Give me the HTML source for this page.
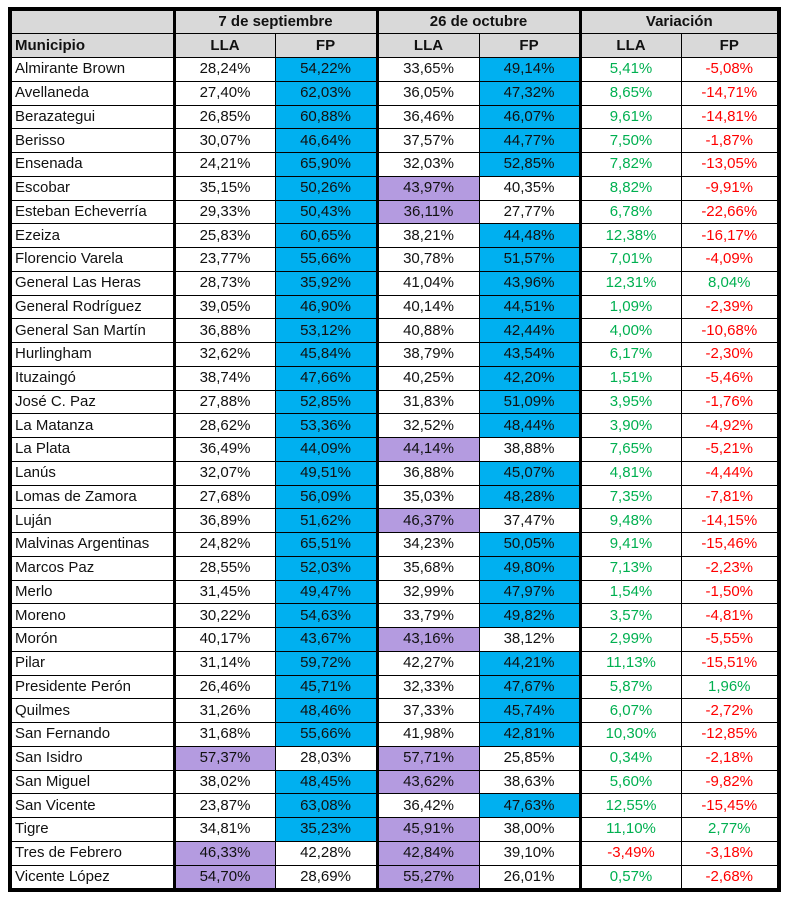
<!DOCTYPE html>
<html><head><meta charset="utf-8"><style>
html,body{margin:0;padding:0;background:#fff;width:790px;height:901px;overflow:hidden}
table{position:absolute;left:8px;top:7px;border-collapse:collapse;table-layout:fixed;width:769px;border:4px solid #000;font-family:"Liberation Sans",Arial,sans-serif;font-size:15px;color:#111}
td{border:1.5px solid #000;padding:0;height:22.75px;text-align:center;white-space:nowrap;overflow:hidden;line-height:20px}
td:first-child{text-align:left;padding-left:3px}
tr.h td{background:#d9d9d9;font-weight:bold;height:22px}
tr.h2 td{height:23px}
td:nth-child(2),td:nth-child(4),td:nth-child(6){border-left:3.5px solid #000}
tr.h td.g{border-left:3.5px solid #000}
.b{background:#00b0f0}.p{background:#b49be0}
.g1{color:#00b050}.r{color:#ff0000}
</style></head><body>
<table>
<colgroup><col style="width:164px"><col style="width:101px"><col style="width:102px"><col style="width:102px"><col style="width:101px"><col style="width:101px"><col style="width:98px"></colgroup>
<tr class="h"><td></td><td colspan="2" class="g">7 de septiembre</td><td colspan="2" class="g" style="border-left:3.5px solid #000">26 de octubre</td><td colspan="2" class="g" style="border-left:3.5px solid #000">Variación</td></tr>
<tr class="h h2"><td>Municipio</td><td>LLA</td><td>FP</td><td>LLA</td><td>FP</td><td>LLA</td><td>FP</td></tr>
<tr><td>Almirante Brown</td><td>28,24%</td><td class="b">54,22%</td><td>33,65%</td><td class="b">49,14%</td><td class="g1">5,41%</td><td class="r">-5,08%</td></tr>
<tr><td>Avellaneda</td><td>27,40%</td><td class="b">62,03%</td><td>36,05%</td><td class="b">47,32%</td><td class="g1">8,65%</td><td class="r">-14,71%</td></tr>
<tr><td>Berazategui</td><td>26,85%</td><td class="b">60,88%</td><td>36,46%</td><td class="b">46,07%</td><td class="g1">9,61%</td><td class="r">-14,81%</td></tr>
<tr><td>Berisso</td><td>30,07%</td><td class="b">46,64%</td><td>37,57%</td><td class="b">44,77%</td><td class="g1">7,50%</td><td class="r">-1,87%</td></tr>
<tr><td>Ensenada</td><td>24,21%</td><td class="b">65,90%</td><td>32,03%</td><td class="b">52,85%</td><td class="g1">7,82%</td><td class="r">-13,05%</td></tr>
<tr><td>Escobar</td><td>35,15%</td><td class="b">50,26%</td><td class="p">43,97%</td><td>40,35%</td><td class="g1">8,82%</td><td class="r">-9,91%</td></tr>
<tr><td>Esteban Echeverría</td><td>29,33%</td><td class="b">50,43%</td><td class="p">36,11%</td><td>27,77%</td><td class="g1">6,78%</td><td class="r">-22,66%</td></tr>
<tr><td>Ezeiza</td><td>25,83%</td><td class="b">60,65%</td><td>38,21%</td><td class="b">44,48%</td><td class="g1">12,38%</td><td class="r">-16,17%</td></tr>
<tr><td>Florencio Varela</td><td>23,77%</td><td class="b">55,66%</td><td>30,78%</td><td class="b">51,57%</td><td class="g1">7,01%</td><td class="r">-4,09%</td></tr>
<tr><td>General Las Heras</td><td>28,73%</td><td class="b">35,92%</td><td>41,04%</td><td class="b">43,96%</td><td class="g1">12,31%</td><td class="g1">8,04%</td></tr>
<tr><td>General Rodríguez</td><td>39,05%</td><td class="b">46,90%</td><td>40,14%</td><td class="b">44,51%</td><td class="g1">1,09%</td><td class="r">-2,39%</td></tr>
<tr><td>General San Martín</td><td>36,88%</td><td class="b">53,12%</td><td>40,88%</td><td class="b">42,44%</td><td class="g1">4,00%</td><td class="r">-10,68%</td></tr>
<tr><td>Hurlingham</td><td>32,62%</td><td class="b">45,84%</td><td>38,79%</td><td class="b">43,54%</td><td class="g1">6,17%</td><td class="r">-2,30%</td></tr>
<tr><td>Ituzaingó</td><td>38,74%</td><td class="b">47,66%</td><td>40,25%</td><td class="b">42,20%</td><td class="g1">1,51%</td><td class="r">-5,46%</td></tr>
<tr><td>José C. Paz</td><td>27,88%</td><td class="b">52,85%</td><td>31,83%</td><td class="b">51,09%</td><td class="g1">3,95%</td><td class="r">-1,76%</td></tr>
<tr><td>La Matanza</td><td>28,62%</td><td class="b">53,36%</td><td>32,52%</td><td class="b">48,44%</td><td class="g1">3,90%</td><td class="r">-4,92%</td></tr>
<tr><td>La Plata</td><td>36,49%</td><td class="b">44,09%</td><td class="p">44,14%</td><td>38,88%</td><td class="g1">7,65%</td><td class="r">-5,21%</td></tr>
<tr><td>Lanús</td><td>32,07%</td><td class="b">49,51%</td><td>36,88%</td><td class="b">45,07%</td><td class="g1">4,81%</td><td class="r">-4,44%</td></tr>
<tr><td>Lomas de Zamora</td><td>27,68%</td><td class="b">56,09%</td><td>35,03%</td><td class="b">48,28%</td><td class="g1">7,35%</td><td class="r">-7,81%</td></tr>
<tr><td>Luján</td><td>36,89%</td><td class="b">51,62%</td><td class="p">46,37%</td><td>37,47%</td><td class="g1">9,48%</td><td class="r">-14,15%</td></tr>
<tr><td>Malvinas Argentinas</td><td>24,82%</td><td class="b">65,51%</td><td>34,23%</td><td class="b">50,05%</td><td class="g1">9,41%</td><td class="r">-15,46%</td></tr>
<tr><td>Marcos Paz</td><td>28,55%</td><td class="b">52,03%</td><td>35,68%</td><td class="b">49,80%</td><td class="g1">7,13%</td><td class="r">-2,23%</td></tr>
<tr><td>Merlo</td><td>31,45%</td><td class="b">49,47%</td><td>32,99%</td><td class="b">47,97%</td><td class="g1">1,54%</td><td class="r">-1,50%</td></tr>
<tr><td>Moreno</td><td>30,22%</td><td class="b">54,63%</td><td>33,79%</td><td class="b">49,82%</td><td class="g1">3,57%</td><td class="r">-4,81%</td></tr>
<tr><td>Morón</td><td>40,17%</td><td class="b">43,67%</td><td class="p">43,16%</td><td>38,12%</td><td class="g1">2,99%</td><td class="r">-5,55%</td></tr>
<tr><td>Pilar</td><td>31,14%</td><td class="b">59,72%</td><td>42,27%</td><td class="b">44,21%</td><td class="g1">11,13%</td><td class="r">-15,51%</td></tr>
<tr><td>Presidente Perón</td><td>26,46%</td><td class="b">45,71%</td><td>32,33%</td><td class="b">47,67%</td><td class="g1">5,87%</td><td class="g1">1,96%</td></tr>
<tr><td>Quilmes</td><td>31,26%</td><td class="b">48,46%</td><td>37,33%</td><td class="b">45,74%</td><td class="g1">6,07%</td><td class="r">-2,72%</td></tr>
<tr><td>San Fernando</td><td>31,68%</td><td class="b">55,66%</td><td>41,98%</td><td class="b">42,81%</td><td class="g1">10,30%</td><td class="r">-12,85%</td></tr>
<tr><td>San Isidro</td><td class="p">57,37%</td><td>28,03%</td><td class="p">57,71%</td><td>25,85%</td><td class="g1">0,34%</td><td class="r">-2,18%</td></tr>
<tr><td>San Miguel</td><td>38,02%</td><td class="b">48,45%</td><td class="p">43,62%</td><td>38,63%</td><td class="g1">5,60%</td><td class="r">-9,82%</td></tr>
<tr><td>San Vicente</td><td>23,87%</td><td class="b">63,08%</td><td>36,42%</td><td class="b">47,63%</td><td class="g1">12,55%</td><td class="r">-15,45%</td></tr>
<tr><td>Tigre</td><td>34,81%</td><td class="b">35,23%</td><td class="p">45,91%</td><td>38,00%</td><td class="g1">11,10%</td><td class="g1">2,77%</td></tr>
<tr><td>Tres de Febrero</td><td class="p">46,33%</td><td>42,28%</td><td class="p">42,84%</td><td>39,10%</td><td class="r">-3,49%</td><td class="r">-3,18%</td></tr>
<tr><td>Vicente López</td><td class="p">54,70%</td><td>28,69%</td><td class="p">55,27%</td><td>26,01%</td><td class="g1">0,57%</td><td class="r">-2,68%</td></tr>
</table>
</body></html>
